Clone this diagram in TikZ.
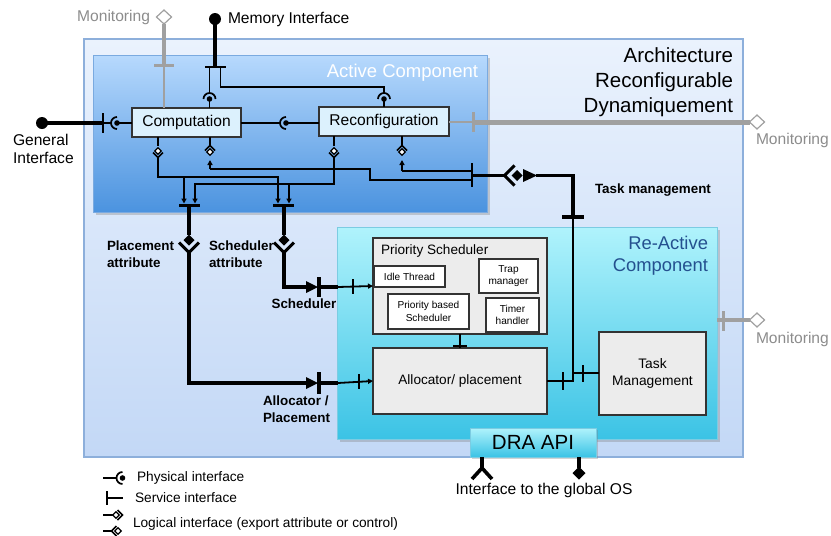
\documentclass[tikz,border=0pt]{standalone}
\usepackage{fontspec}
\setmainfont{Liberation Sans}
\usetikzlibrary{arrows.meta,fit,shadows,shapes.geometric}
\definecolor{outerTop}{HTML}{EAF2FD}
\definecolor{outerBot}{HTML}{C3D8F6}
\definecolor{outerBorder}{HTML}{8DAFDB}
\definecolor{activeTop}{HTML}{B7D9FD}
\definecolor{activeBot}{HTML}{4B93DF}
\definecolor{activeBorder}{HTML}{7AAAE0}
\definecolor{reTop}{HTML}{B0F3FC}
\definecolor{reBot}{HTML}{3BC3E5}
\definecolor{reBorder}{HTML}{7CCCE2}
\definecolor{compFill}{HTML}{DCF1FD}
\definecolor{grayFill}{HTML}{ECECEC}
\definecolor{boxLine}{HTML}{333333}
\definecolor{monGray}{HTML}{A0A0A0}
\definecolor{monText}{HTML}{8C8C8C}
\definecolor{reTitle}{HTML}{24508F}
\tikzset{
  every node/.style={inner sep=0pt, outer sep=0pt},
  fbig/.style={font=\fontsize{15.6}{18.5}\selectfont},
  fbold/.style={font=\bfseries\fontsize{13.4}{16.5}\selectfont},
  fleg/.style={font=\fontsize{13.7}{16}\selectfont},
  fsmall/.style={font=\fontsize{10.1}{12.5}\selectfont},
  compbox/.style={draw=boxLine, fill=compFill, line width=1.1pt, fbig},
  graybox/.style={draw=boxLine, fill=grayFill, line width=1.1pt},
  whitebox/.style={draw=boxLine, fill=white, line width=1.1pt, fsmall, align=center},
  wire/.style={line width=1.8pt, line join=miter},
  thk/.style={line width=3.6pt, line join=miter},
  svc/.style={line width=2.6pt},
  gline/.style={draw=monGray},
  mondiam/.style={diamond, draw=monGray, fill=white, line width=1.2pt, minimum width=15pt, minimum height=14pt},
  montext/.style={text=monText, font=\fontsize{15.6}{18}\selectfont},
  arr/.style={-{Triangle[length=5pt,width=5pt]}},
  bigdot/.style={circle, fill=black, minimum size=12pt},
  physsym/.pic={
    \draw[line width=1.7pt] (90:6) arc[start angle=90, end angle=270, radius=6];
    \fill (0,0) circle[radius=2.8];
  },
  logicbig/.pic={
    \fill (0,-5.5) -- (5.5,0) -- (0,5.5) -- (-5.5,0) -- cycle;
    \draw[line width=3pt, miter limit=10] (-10,2.5) -- (0,12.5) -- (10,2.5);
  },
  logicsmall/.pic={
    \draw[line width=1.3pt, fill=white] (0,-3.3) -- (3.3,0) -- (0,3.3) -- (-3.3,0) -- cycle;
    \draw[line width=1.6pt] (-5,1.5) -- (0,6.5) -- (5,1.5);
  },
}
\begin{document}
\begin{tikzpicture}[x=1pt,y=-1pt]
\useasboundingbox (0,0) rectangle (831,536);

% ---------- containers ----------
\node[fit={(84,39) (743,457)}, draw=outerBorder, line width=1.2pt, top color=outerTop, bottom color=outerBot] (outer) {};
\node[anchor=east, align=right, font=\fontsize{20.5}{25}\selectfont] (archtitle) at (733,82) {Architecture\\Reconfigurable\\Dynamiquement};

\node[fit={(93,55) (487,212)}, draw=activeBorder, line width=1pt, top color=activeTop, bottom color=activeBot,
      drop shadow={shadow xshift=2.5pt, shadow yshift=-2.5pt, opacity=0.35}] (active) {};
\node[anchor=east, text=white, font=\fontsize{18.5}{22}\selectfont] (acttitle) at (478,73) {Active Component};

\node[fit={(337,227) (717,439)}, draw=reBorder, line width=1pt, top color=reTop, bottom color=reBot,
      drop shadow={shadow xshift=2.5pt, shadow yshift=-2.5pt, opacity=0.35}] (reactive) {};
\node[anchor=east, align=right, text=reTitle, font=\fontsize{18.4}{22}\selectfont] (retitle) at (708,256) {Re-Active\\Component};

\node[minimum width=126pt, minimum height=29pt, draw=reBorder, line width=1pt, top color=reTop, bottom color=reBot,
      drop shadow={shadow xshift=2pt, shadow yshift=-2pt, opacity=0.35}, font=\fontsize{20.5}{24}\selectfont] (dra) at (533,442.5) {DRA API};

% ---------- boxes ----------
\node[compbox, minimum width=109pt, minimum height=29pt] (comp) at (186.5,122.5) {Computation};
\node[compbox, minimum width=130pt, minimum height=29pt] (reconf) at (384,121.5) {Reconfiguration};

\node[graybox, fit={(373,238) (547,334)}] (psched) {};
\node[anchor=west, font=\fontsize{13.6}{16}\selectfont] (pschedtitle) at (381,251) {Priority Scheduler};
\node[whitebox, minimum width=71pt, minimum height=21pt] (idle) at (409.5,276.5) {Idle Thread};
\node[whitebox, minimum width=59pt, minimum height=34pt] (trap) at (508.5,276) {Trap\\manager};
\node[whitebox, minimum width=81pt, minimum height=35pt] (pbs) at (428.5,311.5) {Priority based\\Scheduler};
\node[whitebox, minimum width=53pt, minimum height=34pt] (timer) at (512.5,315) {Timer\\handler};

\node[graybox, minimum width=174pt, minimum height=66pt, font=\fontsize{13.6}{16}\selectfont] (alloc) at (460,381) {Allocator/ placement};
\node[graybox, minimum width=107pt, minimum height=83pt, font=\fontsize{13.8}{16.5}\selectfont, align=center] (taskm) at (652.5,373.5) {Task\\Management};

% ---------- labels ----------
\node[anchor=west, fbig] (memtxt) at (228,19) {Memory Interface};
\node[anchor=west, fbig, align=left] (gentxt) at (13,149) {General\\Interface};
\node[anchor=east, montext] (montop) at (150,17) {Monitoring};
\node[anchor=west, montext] (monr1) at (756,140) {Monitoring};
\node[anchor=west, montext] (monr2) at (756,339) {Monitoring};
\node[anchor=west, fbold] (tasktxt) at (595,190) {Task management};
\node[anchor=west, fbold, align=left] (plattr) at (107,254) {Placement\\attribute};
\node[anchor=west, fbold, align=left] (scattr) at (209,254) {Scheduler\\attribute};
\node[fbold] (schedtxt) at (304,304) {Scheduler};
\node[anchor=west, fbold, align=left] (alloctxt) at (263,409) {Allocator /\\Placement};
\node[fbig] (ostxt) at (544,490) {Interface to the global OS};

% ---------- Monitoring (top) ----------
\node[mondiam] (mond1) at (164,17) {};
\draw[gline, line width=4pt] (mond1.south) -- (164,65);
\draw[gline, line width=3pt] (154,65) -- (174,65);
\draw[gline, line width=2pt] (164,65) -- (comp.north -| mond1.south);

% ---------- Monitoring (right, reconfiguration) ----------
\node[mondiam] (mond2) at (757,122) {};
\draw[gline, line width=2pt] (reconf.east |- mond2.west) -- (473,122);
\draw[gline, line width=3pt] (473,112) -- (473,132);
\draw[gline, line width=5pt] (473,122) -- (mond2.west);

% ---------- Monitoring (right, re-active) ----------
\node[mondiam] (mond3) at (757,320) {};
\draw[gline, line width=3pt] (723,311) -- (723,331);
\draw[gline, line width=4.5pt] (reactive.east |- mond3.west) -- (mond3.west);

% ---------- Memory interface ----------
\node[bigdot] (memdot) at (215,19) {};
\draw[thk] (memdot.center) -- (215,67);
\draw[svc] (205,67) -- (226,67);
\draw[wire] (209.5,67) -- (209.5,93);
\pic[rotate=-90] at (209.5,99) {physsym};
\draw[wire] (209.5,99) -- (209.5,108);
\draw[wire] (220.5,67) -- (220.5,87) -- (384,87) -- (384,93);
\pic[rotate=-90] at (384,99) {physsym};
\draw[wire] (384,99) -- (reconf.north);

% ---------- General interface ----------
\node[bigdot] (gendot) at (42,123) {};
\draw[thk] (gendot.center) -- (103,123);
\draw[svc] (103,113) -- (103,133);
\draw[wire] (103,123) -- (111,123);
\pic at (117,123) {physsym};
\draw[wire] (117,123) -- (comp.west |- gendot.center);

% ---------- Computation <-> Reconfiguration ----------
\draw[wire] (comp.east |- gendot.center) -- (280,123);
\pic at (286,123) {physsym};
\draw[wire] (286,123) -- (reconf.west |- gendot.center);

% ---------- exports to attributes ----------
\draw[wire] (158,137) -- (158,146);
\pic at (158,151) {logicsmall};
\draw[wire] (158,157) -- (158,177) -- (278,177);
\draw[wire, arr] (278,176) -- (278,203.5);
\draw[wire, arr] (184,177) -- (184,203.5);

\draw[wire] (334,136) -- (334,146);
\pic at (334,151) {logicsmall};
\draw[wire] (334,157) -- (334,184) -- (195,184);
\draw[wire, arr] (195,183) -- (195,203.5);
\draw[wire, arr] (289,184) -- (289,203.5);

\draw[svc] (179,205.5) -- (200,205.5);
\draw[svc] (273,205.5) -- (294,205.5);

% placement attribute
\draw[thk] (189,205.5) -- (189,235);
\pic at (189,240) {logicbig};
\draw[thk] (189,252) -- (189,383) -- (306,383);
\fill (306,377) -- (318,383) -- (306,389) -- cycle;
\draw[line width=4.5pt] (319,372) -- (319,394);
\draw[thk] (319,383) -- (338,383);
\draw[wire, arr] (338,383) -- (alloc.west |- 0,381);
\draw[line width=1.8pt] (359,374) -- (359,389);

% scheduler attribute
\draw[thk] (284,205.5) -- (284,235);
\pic at (284,240) {logicbig};
\draw[thk] (284,252) -- (284,287) -- (306,287);
\fill (306,281) -- (318,287) -- (306,293) -- cycle;
\draw[line width=4.5pt] (319,277) -- (319,297);
\draw[thk] (319,287) -- (338,287);
\draw[wire, arr] (338,287) -- (psched.west |- 0,286);
\draw[line width=1.8pt] (353,279) -- (353,294);

% ---------- imports to task management ----------
\draw[wire] (210,137) -- (210,146);
\pic[rotate=180] at (210,152) {logicsmall};
\draw[wire, arr] (210,169) -- (210,160);
\draw[wire] (210,169) -- (370,169) -- (370,180) -- (472,180);

\draw[wire] (402,136) -- (402,146);
\pic[rotate=180] at (402,152) {logicsmall};
\draw[wire, arr] (402,171) -- (402,160);
\draw[wire] (402,171) -- (472,171);

\draw[svc] (472,163) -- (472,187);
\draw[thk] (472,175.5) -- (505,175.5);
\pic[rotate=-90] at (517,175.5) {logicbig};
\fill (523,169) -- (537,175.5) -- (523,182) -- cycle;
\draw[thk] (536,175.5) -- (573,175.5) -- (573,217);
\draw[line width=4pt] (562,217) -- (584,217);
\draw[line width=2.6pt] (573,217) -- (573,382);
\draw[line width=2.6pt] (alloc.east |- 0,381) -- (573,381);
\draw[line width=2pt] (563,372) -- (563,390);
\draw[line width=2.6pt] (573,373) -- (taskm.west |- 0,373);
\draw[line width=2pt] (583,365) -- (583,382);

% priority scheduler -> allocator
\draw[wire] (psched.south -| alloc.north) -- (alloc.north);
\draw[line width=2pt] (453,346) -- (467,346);

% ---------- DRA API interfaces ----------
\draw[thk] (482,457) -- (482,468);
\draw[thk] (472,479) -- (482,468) -- (492,479);
\draw[thk] (579,457) -- (579,468);
\node[diamond, fill=black, minimum width=13pt, minimum height=13pt] (osdiam) at (579,473) {};

% ---------- legend ----------
\draw[wire] (103,478) -- (117,478);
\pic at (122.5,478) {physsym};
\node[anchor=west, fleg] (legphys) at (137,478) {Physical interface};
\draw[svc] (107,491) -- (107,505);
\draw[wire] (107,498) -- (123,498);
\node[anchor=west, fleg] (legsvc) at (135,498) {Service interface};
\draw[wire] (103,515) -- (116,515);
\pic[rotate=90] at (116,515) {logicsmall};
\draw[wire] (103,531) -- (112,531);
\pic[rotate=-90] at (118,531) {logicsmall};
\node[anchor=west, fleg] (leglog) at (133,524) {Logical interface (export attribute or control)};
\end{tikzpicture}
\end{document}
